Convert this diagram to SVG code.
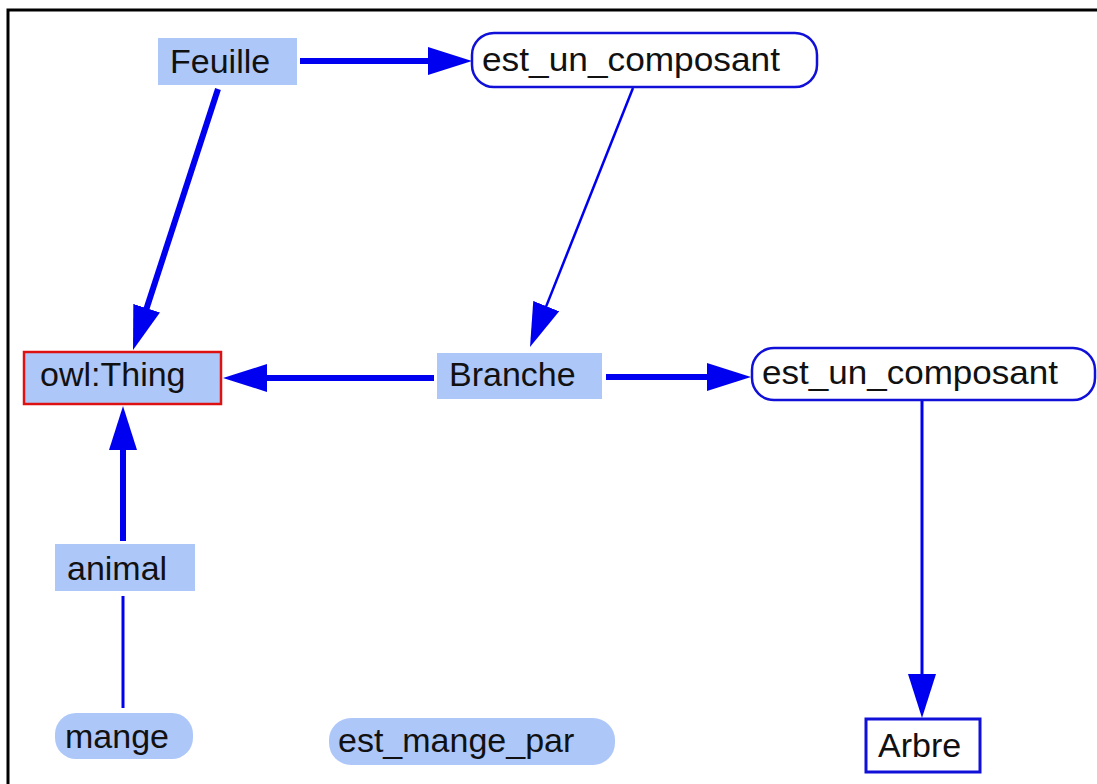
<svg xmlns="http://www.w3.org/2000/svg" width="1097" height="784" viewBox="0 0 1097 784">
  <style>
    .lbl { font-family: "Liberation Sans", Arial, sans-serif; font-size: 34px; fill: #111; }
    .cls { fill: #aec7f9; }
    .prop { fill: #ffffff; stroke: #1010d8; stroke-width: 2.5; }
    .thick { stroke: #0000f0; stroke-width: 6; fill: none; }
    .thin { stroke: #0000f0; stroke-width: 3; fill: none; }
    .hair { stroke: #0000f0; stroke-width: 2.5; fill: none; }
  </style>
  <defs>
    <marker id="head" viewBox="0 0 44 28" markerWidth="44" markerHeight="28" refX="14" refY="14" orient="auto" markerUnits="userSpaceOnUse">
      <path d="M0,0 L44,14 L0,28 Z" fill="#0000f0"/>
    </marker>
  </defs>

  <rect width="1097" height="784" fill="#ffffff"/>
  <!-- outer frame -->
  <rect x="8" y="10" width="1100" height="790" fill="none" stroke="#000" stroke-width="3"/>

  <g id="connectors">
    <line class="thick" x1="300" y1="61" x2="442" y2="61" marker-end="url(#head)"/>
    <line class="thick" x1="218" y1="89" x2="142.3" y2="321.5" marker-end="url(#head)"/>
    <line class="hair" x1="633" y1="88" x2="541.1" y2="319.1" marker-end="url(#head)"/>
    <line class="thick" x1="434" y1="378" x2="253" y2="378" marker-end="url(#head)"/>
    <line class="thick" x1="606" y1="377" x2="721" y2="377" marker-end="url(#head)"/>
    <line class="thin" x1="922" y1="401" x2="922" y2="688" marker-end="url(#head)"/>
    <line class="thick" x1="123" y1="541" x2="123" y2="436" marker-end="url(#head)"/>
    <line class="thin" x1="123" y1="596" x2="123" y2="708"/>
  </g>

  <g id="feuille">
    <rect class="cls" x="158" y="38" width="139" height="47"/>
    <text class="lbl" x="170" y="73">Feuille</text>
  </g>

  <g id="est_un_composant_1">
    <rect class="prop" x="472" y="33" width="345" height="54" rx="22"/>
    <text class="lbl" x="482" y="71" textLength="298" lengthAdjust="spacingAndGlyphs">est_un_composant</text>
  </g>

  <g id="owl_thing">
    <rect class="cls" x="24" y="352" width="197" height="52" stroke="#dd1111" stroke-width="2.5"/>
    <text class="lbl" x="40" y="386">owl:Thing</text>
  </g>

  <g id="branche">
    <rect class="cls" x="437" y="353" width="165" height="46"/>
    <text class="lbl" x="449" y="386">Branche</text>
  </g>

  <g id="est_un_composant_2">
    <rect class="prop" x="752" y="348" width="343" height="52" rx="22"/>
    <text class="lbl" x="762" y="384" textLength="296" lengthAdjust="spacingAndGlyphs">est_un_composant</text>
  </g>

  <g id="animal">
    <rect class="cls" x="55" y="544" width="140" height="47"/>
    <text class="lbl" x="67" y="580">animal</text>
  </g>

  <g id="mange">
    <rect class="cls" x="55" y="713" width="138" height="46" rx="21"/>
    <text class="lbl" x="65" y="748">mange</text>
  </g>

  <g id="est_mange_par">
    <rect class="cls" x="329" y="718" width="286" height="47" rx="22"/>
    <text class="lbl" x="338" y="752">est_mange_par</text>
  </g>

  <g id="arbre">
    <rect x="866" y="719" width="114" height="53" fill="#ffffff" stroke="#1010d8" stroke-width="3"/>
    <text class="lbl" x="878" y="757">Arbre</text>
  </g>
</svg>
